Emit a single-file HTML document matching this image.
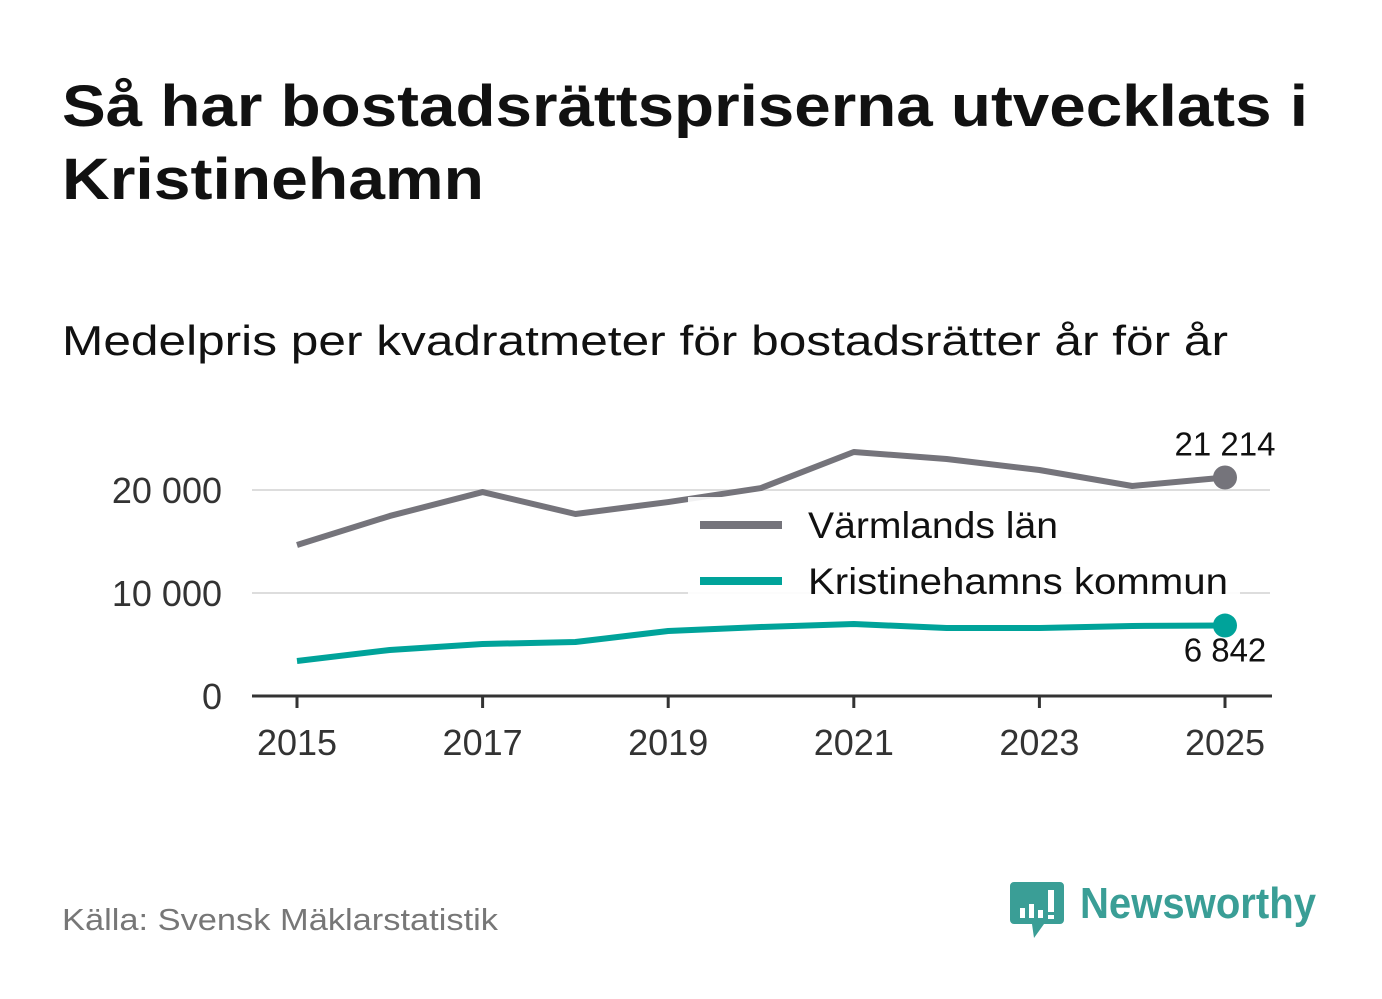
<!DOCTYPE html>
<html><head><meta charset="utf-8"><style>
html,body{margin:0;padding:0;background:#fff;width:1382px;height:999px;overflow:hidden;font-family:"Liberation Sans","DejaVu Sans",sans-serif;}
</style></head><body>
<svg width="1382" height="999" viewBox="0 0 1382 999" xmlns="http://www.w3.org/2000/svg">
<text x="62" y="126" font-size="58" font-weight="bold" fill="#111" textLength="1246" lengthAdjust="spacingAndGlyphs">Så har bostadsrättspriserna utvecklats i</text>
<text x="62" y="199" font-size="58" font-weight="bold" fill="#111" textLength="422" lengthAdjust="spacingAndGlyphs">Kristinehamn</text>
<text x="62" y="355" font-size="42" fill="#111" textLength="1166" lengthAdjust="spacingAndGlyphs">Medelpris per kvadratmeter för bostadsrätter år för år</text>
<g id="plot"></g>
<text x="62" y="930" font-size="31" fill="#777" textLength="436" lengthAdjust="spacingAndGlyphs">Källa: Svensk Mäklarstatistik</text>
<g>
<path d="M1014 882 h46 a4 4 0 0 1 4 4 v34 a4 4 0 0 1 -4 4 h-16 l-10 14 l-2 -14 h-18 a4 4 0 0 1 -4 -4 v-34 a4 4 0 0 1 4 -4z" fill="#3a9e96"/>
<rect x="1020" y="908" width="5" height="10" fill="#fff"/><rect x="1029" y="904" width="5" height="14" fill="#fff"/><rect x="1038" y="910" width="5" height="8" fill="#fff"/><rect x="1048" y="890" width="6" height="22" fill="#fff"/><rect x="1048" y="915" width="6" height="4" fill="#fff"/>
<text x="1080" y="918" font-size="44" font-weight="bold" fill="#3a9e96" textLength="236" lengthAdjust="spacingAndGlyphs">Newsworthy</text>
</g>
</svg>
<script>
const years=[2015,2016,2017,2018,2019,2020,2021,2022,2023,2024,2025];
const varmland=[14660,17480,19800,17670,18830,20190,23690,23010,21940,20390,21214];
const kristinehamn=[3400,4470,5050,5240,6310,6700,6990,6600,6600,6800,6842];
const yTicks=[0,10000,20000];
const yTickLabels=["0","10 000","20 000"];
const xTicks=[2015,2017,2019,2021,2023,2025];
const NS="http://www.w3.org/2000/svg";
const g=document.getElementById('plot');
const X=v=>297+(v-2015)*92.8;
const Y=v=>696-v*0.0103;
function mk(t,a){const e=document.createElementNS(NS,t);for(const k in a)e.setAttribute(k,a[k]);g.appendChild(e);return e;}
yTicks.forEach((v,i)=>{
 if(v>0){const l=mk('line',{x1:252,x2:1270,y1:Y(v),y2:Y(v),stroke:'#ddd','stroke-width':2});
 
 }
 const t=mk('text',{x:222,y:Y(v)+13,'font-size':36,fill:'#333','text-anchor':'end'});t.textContent=yTickLabels[i];
 
 
});
const ax=mk('line',{x1:252,x2:1272,y1:696,y2:696,stroke:'#333','stroke-width':3});


xTicks.forEach(v=>{
 const tk=mk('line',{x1:X(v),x2:X(v),y1:696,y2:708,stroke:'#333','stroke-width':3});
 
 
 const t=mk('text',{x:X(v),y:755,'font-size':36,fill:'#333','text-anchor':'middle'});t.textContent=v;
 
 
});
function series(vals,color,name){
 const p=mk('polyline',{points:vals.map((v,i)=>X(years[i])+','+Y(v)).join(' '),fill:'none',stroke:color,'stroke-width':6,'stroke-linejoin':'round'});
 
 
 const n=vals.length-1;
 const c=mk('circle',{cx:X(years[n]),cy:Y(vals[n]),r:12,fill:color});
 
 
}
series(varmland,'#75747b','varmland');
series(kristinehamn,'#00a39a','kristinehamn');
function fmt(v){return String(v).replace(/\B(?=(\d{3})+(?!\d))/g,' ');}
let t=mk('text',{x:1225,y:Y(varmland[10])-22,'font-size':33,fill:'#111','text-anchor':'middle'});t.textContent=fmt(varmland[10]);


t=mk('text',{x:1225,y:Y(kristinehamn[10])+36,'font-size':33,fill:'#111','text-anchor':'middle'});t.textContent=fmt(kristinehamn[10]);


const bg=mk('rect',{x:688,y:497,width:552,height:103,fill:'#fff','fill-opacity':0.9});


[['Värmlands län','#75747b',525,250],['Kristinehamns kommun','#00a39a',581,420]].forEach(([lab,col,y,w])=>{
 const l=mk('line',{x1:700,x2:782,y1:y,y2:y,stroke:col,'stroke-width':8});
 
 
 const tt=mk('text',{x:808,y:y+13,'font-size':37,fill:'#111',textLength:w,lengthAdjust:'spacingAndGlyphs'});tt.textContent=lab;
 
 
});
</script>
</body></html>
